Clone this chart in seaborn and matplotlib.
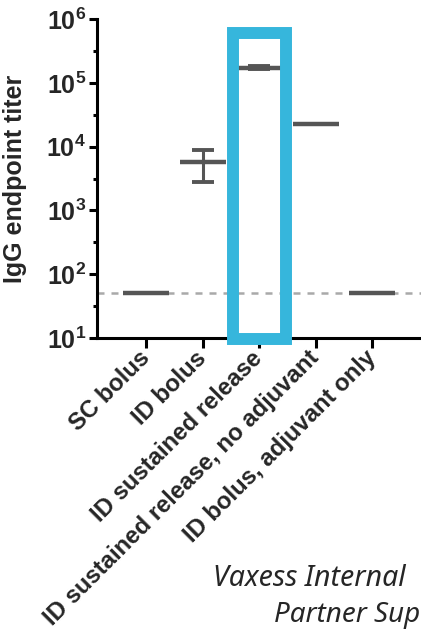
import numpy as np
import pandas as pd
import matplotlib
matplotlib.use("Agg")
import matplotlib.pyplot as plt
import seaborn as sns
from matplotlib.patches import Rectangle
from matplotlib.ticker import FixedLocator, NullFormatter

# ---- data ----
categories = ["SC bolus", "ID bolus", "ID sustained release",
              "ID sustained release, no adjuvant", "ID bolus, adjuvant only"]
titer_mean = [50, 5700, 172000, 22500, 50]
titer_low = [50, 2750, 163000, 22500, 50]
titer_high = [50, 9000, 184000, 22500, 50]
detection_limit = 50
highlight_group = "ID sustained release"
y_tick_exponents = [1, 2, 3, 4, 5, 6]
footer_lines = ["Vaxess Internal", "Partner Sup"]

sns.set_theme(style="ticks")
plt.rcParams["font.family"] = ["Liberation Sans", "DejaVu Sans"]
plt.rcParams["font.weight"] = "bold"

fig = plt.figure(figsize=(4.21, 6.38), dpi=100)
ax = fig.add_axes([97 / 421, 300 / 638, 343 / 421, 319 / 638])

df = pd.DataFrame({"group": categories, "titer": titer_mean})
gray = "#555555"

ax.axhline(detection_limit, color="#a9a9a9", lw=1.8, dashes=(2.8, 2.8), zorder=1)

sns.scatterplot(data=df, x="group", y="titer", marker="_", s=33 ** 2,
                linewidth=3.2, color=gray, edgecolor=gray, ax=ax, zorder=4,
                legend=False)
xs = np.arange(len(categories))
mean = np.array(titer_mean, dtype=float)
ax.errorbar(xs, mean, yerr=[mean - np.array(titer_low), np.array(titer_high) - mean],
            fmt="none", ecolor=gray, elinewidth=2.2, capsize=8, capthick=2.8, zorder=3)

ax.set_yscale("log")
ax.set_ylim(10, 1e6)
ax.set_xlim(-0.867, len(categories) + 0.2)

ax.yaxis.set_major_locator(FixedLocator([10.0 ** e for e in y_tick_exponents]))
ax.yaxis.set_minor_locator(FixedLocator([10.0 ** (e + 0.5) for e in y_tick_exponents[:-1]]))
ax.yaxis.set_minor_formatter(NullFormatter())
ax.set_yticklabels([r"$\mathregular{10^{%d}}$" % e for e in y_tick_exponents],
                   fontsize=18, fontweight="bold")

ax.set_xticks(xs)
ax.set_xticklabels(categories, rotation=45, ha="right", va="center",
                   rotation_mode="anchor", fontsize=17.2, fontweight="bold")
ax.set_xlabel("")
ax.set_ylabel("IgG endpoint titer", fontsize=18, fontweight="bold")
ax.yaxis.set_label_coords(-0.204, 0.5)

for s in ["top", "right"]:
    ax.spines[s].set_visible(False)
for s in ["left", "bottom"]:
    ax.spines[s].set_linewidth(2.2)
    ax.spines[s].set_color("black")
ax.tick_params(axis="both", which="major", length=6, width=2.2, color="black", pad=2)
ax.tick_params(axis="y", which="minor", length=3, width=2.2, color="black")
ax.tick_params(axis="x", which="major", length=7, pad=5)

# highlight box around one group
hx = categories.index(highlight_group)
rect = Rectangle((hx - 0.47, 9.8), 0.94, 6.0e5 - 9.8, fill=False,
                 edgecolor="#36b6dc", linewidth=8.6, joinstyle="miter",
                 clip_on=False, zorder=6)
ax.add_patch(rect)

foot_font = ["Noto Sans", "DejaVu Sans"]
fig.text(213 / 421, 1 - 586 / 638, footer_lines[0], fontsize=20.5, style="italic",
         fontweight="normal", family=foot_font, ha="left", va="baseline")
fig.text(274 / 421, 1 - 622 / 638, footer_lines[1], fontsize=20, style="italic",
         fontweight="normal", family=foot_font, ha="left", va="baseline")

fig.savefig("out.png", dpi=100)
